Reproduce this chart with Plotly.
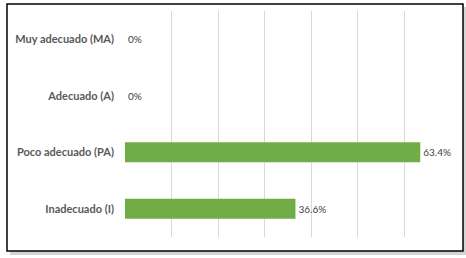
import plotly.graph_objects as go

categories = ["Muy adecuado (MA)", "Adecuado (A)", "Poco adecuado (PA)", "Inadecuado (I)"]
values = [0, 0, 63.4, 36.6]
labels = ["0%", "0%", "63.4%", "36.6%"]

W, H = 466, 258
L, R, T, B = 125, 15, 11, 21
pw, ph = W - L - R, H - T - B

def px_x(p):
    return (p - L) / pw

def px_y(p):
    return (H - B - p) / ph

fig = go.Figure(go.Bar(
    x=values, y=categories, orientation="h",
    marker=dict(color="#70AD47", line=dict(width=0)),
    text=labels, textposition="outside", cliponaxis=False,
    textfont=dict(family="Lato", size=10, color="#404040"),
    width=0.35,
))

shapes = [
    dict(type="rect", xref="paper", yref="paper", layer="below",
         x0=px_x(10), x1=px_x(466), y0=px_y(7), y1=px_y(255),
         fillcolor="#d4d4d4", line=dict(width=0)),
    dict(type="rect", xref="paper", yref="paper", layer="below",
         x0=px_x(7), x1=px_x(463), y0=px_y(4), y1=px_y(251),
         fillcolor="white", line=dict(color="black", width=1.5)),
]

fig.update_layout(
    width=W, height=H,
    margin=dict(l=L, r=R, t=T, b=B),
    paper_bgcolor="white", plot_bgcolor="rgba(0,0,0,0)",
    showlegend=False,
    shapes=shapes,
    xaxis=dict(range=[0, 70], dtick=10, showgrid=True, gridcolor="#d9d9d9",
               gridwidth=1, showticklabels=False, zeroline=False,
               showline=False, ticks=""),
    yaxis=dict(categoryorder="array", categoryarray=categories,
               autorange="reversed", showgrid=False, zeroline=False,
               showline=False, ticks="", ticklen=0,
               tickfont=dict(family="Lato", size=11, color="#595959", weight="bold")),
)
fig.update_yaxes(ticklabelstandoff=10)

fig.write_html("out.html")
